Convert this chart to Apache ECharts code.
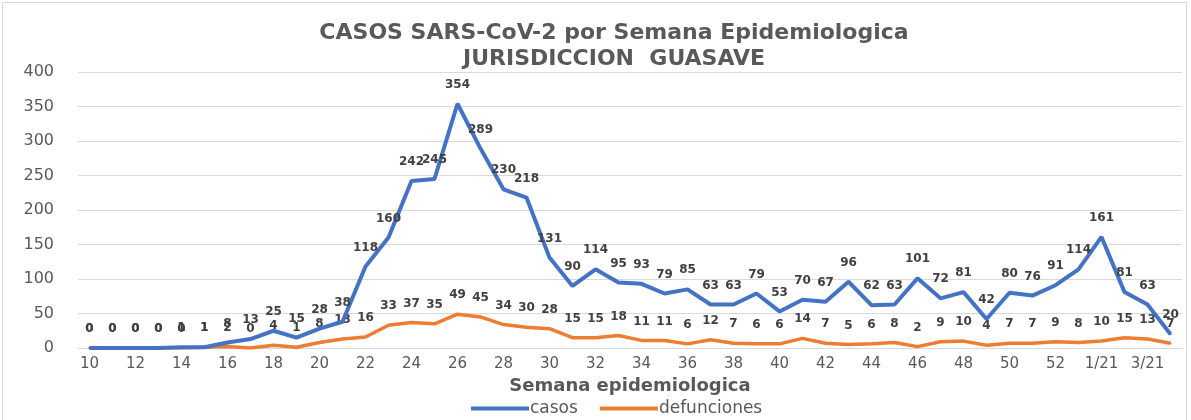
<!DOCTYPE html>
<html>
<head>
<meta charset="utf-8">
<script src="https://cdn.jsdelivr.net/npm/echarts@6/dist/echarts.min.js"></script>
<style>
  html, body { margin: 0; padding: 0; background: #fff; }
  #chart { position: absolute; left: 2px; top: 2px; width: 1185px; height: 422px;
           border: 1px solid #d9d9d9; box-sizing: border-box; }
</style>
</head>
<body>
<div id="chart"></div>
<script>
  // semanas epidemiologicas 10..53 de 2020 y 1..4 de 2021
  var weeks = [
    '10', '11', '12', '13', '14', '15', '16', '17', '18', '19',
    '20', '21', '22', '23', '24', '25', '26', '27', '28', '29',
    '30', '31', '32', '33', '34', '35', '36', '37', '38', '39',
    '40', '41', '42', '43', '44', '45', '46', '47', '48', '49',
    '50', '51', '52', '53', '1/21', '2/21', '3/21', '4/21'
  ];

  var casos = [
    0, 0, 0, 0, 1, 1, 8, 13, 25, 15,
    28, 38, 118, 160, 242, 245, 354, 289, 230, 218,
    131, 90, 114, 95, 93, 79, 85, 63, 63, 79,
    53, 70, 67, 96, 62, 63, 101, 72, 81, 42,
    80, 76, 91, 114, 161, 81, 63, 20
  ];

  var defunciones = [
    0, 0, 0, 0, 0, 1, 2, 0, 4, 1,
    8, 13, 16, 33, 37, 35, 49, 45, 34, 30,
    28, 15, 15, 18, 11, 11, 6, 12, 7, 6,
    6, 14, 7, 5, 6, 8, 2, 9, 10, 4,
    7, 7, 9, 8, 10, 15, 13, 7
  ];

  var yTicks = { min: 0, max: 400, step: 50 };

  var font = "'DejaVu Sans', sans-serif";

  var chart = echarts.init(document.getElementById('chart'));

  var dataLabel = {
    show: true,
    position: 'top',
    distance: 12,
    color: '#404040',
    fontFamily: font,
    fontWeight: 'bold',
    fontSize: 12
  };

  chart.setOption({
    animation: false,
    title: {
      text: 'CASOS SARS-CoV-2 por Semana Epidemiologica\nJURISDICCION  GUASAVE',
      // centre of the title sits a bit right of the page centre in the original
      left: 606,
      textAlign: 'center',
      top: 12,
      textStyle: {
        fontFamily: font,
        fontWeight: 'bold',
        fontSize: 22,
        lineHeight: 26,
        color: '#595959'
      }
    },
    legend: {
      bottom: 1,
      left: 463,
      itemWidth: 58,
      itemHeight: 4,
      itemGap: 22,
      icon: 'rect',
      textStyle: { fontFamily: font, fontSize: 17, color: '#595959', padding: [0, 0, 0, -4] },
      data: ['casos', 'defunciones']
    },
    grid: { left: 75, right: 4, top: 69, bottom: 75 },
    xAxis: {
      type: 'category',
      data: weeks,
      boundaryGap: true,
      name: 'Semana epidemiologica',
      nameLocation: 'middle',
      nameGap: 28,
      nameTextStyle: {
        fontFamily: font, fontWeight: 'bold', fontSize: 18, color: '#595959'
      },
      axisLine: { lineStyle: { color: '#d9d9d9' } },
      axisTick: { show: false },
      axisLabel: {
        interval: 1,
        margin: 9,
        fontFamily: font,
        fontSize: 15,
        color: '#595959'
      }
    },
    yAxis: {
      type: 'value',
      min: yTicks.min,
      max: yTicks.max,
      interval: yTicks.step,
      axisLine: { show: false },
      axisTick: { show: false },
      splitLine: { lineStyle: { color: '#d9d9d9' } },
      axisLabel: {
        margin: 24,
        fontFamily: font,
        fontSize: 16,
        color: '#595959'
      }
    },
    series: [
      {
        name: 'casos',
        type: 'line',
        data: casos,
        symbol: 'circle',
        symbolSize: 2,
        showSymbol: true,
        lineStyle: { width: 4, color: '#4472C4' },
        itemStyle: { color: '#4472C4' },
        label: dataLabel,
        labelLayout: { hideOverlap: false },
        z: 3
      },
      {
        name: 'defunciones',
        type: 'line',
        data: defunciones,
        symbol: 'circle',
        symbolSize: 2,
        showSymbol: true,
        lineStyle: { width: 3.5, color: '#ED7D31' },
        itemStyle: { color: '#ED7D31' },
        label: dataLabel,
        labelLayout: { hideOverlap: false },
        z: 2
      }
    ]
  });
</script>
</body>
</html>
